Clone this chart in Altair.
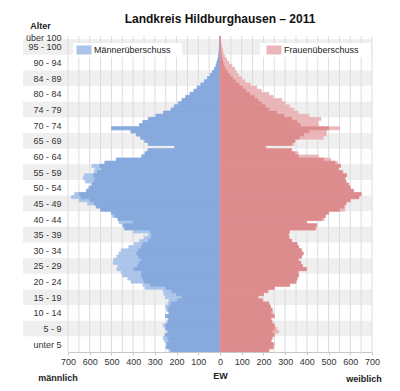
import json
import altair as alt
import pandas as pd

# ---------------- data ----------------
ages = list(range(101))  # 0 ... 100 (100 = "über 100")

male = [
    235, 250, 245, 255, 262,      # 0-4
    255, 240, 250, 262, 245,      # 5-9
    240, 250, 235, 245, 250,      # 10-14
    240, 235, 250, 258, 262,      # 15-19
    345, 355, 410, 425, 450,      # 20-24
    455, 475, 470, 492, 490,      # 25-29
    475, 465, 455, 420, 395,      # 30-34
    370, 350, 330, 400, 440,      # 35-39
    450, 465, 470, 495, 500,      # 40-44
    550, 570, 610, 650, 685,      # 45-49
    670, 615, 605, 590, 620,      # 50-54
    630, 625, 580, 575, 590,      # 55-59
    530, 477, 360, 345, 335,      # 60-64
    208, 330, 350, 365, 385,      # 65-69
    410, 500, 370, 355, 330,      # 70-74
    295, 260, 225, 210, 192,      # 75-79
    175, 158, 138, 120, 105,      # 80-84
    88, 72, 58, 45, 35,           # 85-89
    25, 18, 14, 10, 7,            # 90-94
    5, 4, 3, 2, 1,                # 95-99
    1,                            # 100+
]

female = [
    225, 245, 250, 235, 240,      # 0-4
    250, 270, 262, 250, 240,      # 5-9
    235, 250, 245, 240, 232,      # 10-14
    225, 195, 175, 200, 221,      # 15-19
    250, 321, 350, 355, 362,      # 20-24
    360, 398, 380, 372, 360,      # 25-29
    375, 383, 375, 362, 355,      # 30-34
    330, 318, 315, 320, 440,      # 35-39
    445, 398, 480, 485, 500,      # 40-44
    575, 575, 580, 600, 640,      # 45-49
    650, 615, 600, 595, 580,      # 50-54
    575, 583, 565, 545, 555,      # 55-59
    540, 510, 455, 360, 330,      # 60-64
    214, 340, 345, 475, 490,      # 65-69
    490, 552, 455, 452, 465,      # 70-74
    410, 360, 340, 320, 300,      # 75-79
    285, 245, 225, 190, 170,      # 80-84
    140, 115, 100, 85, 75,        # 85-89
    68, 55, 40, 30, 22,           # 90-94
    15, 12, 8, 6, 4,              # 95-99
    3,                            # 100+
]

group_labels = [
    "unter 5", "5 - 9", "10 - 14", "15 - 19", "20 - 24", "25 - 29",
    "30 - 34", "35 - 39", "40 - 44", "45 - 49", "50 - 54", "55 - 59",
    "60 - 64", "65 - 69", "70 - 74", "74 - 79", "80 - 84", "84 - 89",
    "90 - 94", "95 - 100", "über 100",
]
label_positions = [2.5, 7.5, 12.5, 17.5, 22.5, 27.5, 32.5, 37.5, 42.5, 47.5,
                   52.5, 57.5, 62.5, 67.5, 72.5, 77.5, 82.5, 87.5, 92.5, 97.5,
                   100.5]
tick_values = [-700, -600, -500, -400, -300, -200, -100, 0,
               100, 200, 300, 400, 500, 600, 700]
grid_values = [-700, -650, -600, -550, -500, -450, -400, -350, -300, -250,
               -200, -150, -100, -50, 50, 100, 150, 200, 250, 300, 350,
               400, 450, 500, 550, 600, 650, 700]
legend_names = ["Männerüberschuss", "Frauenüberschuss"]

# ---------------- styling ----------------
W, H = 304, 316
DARK_BLUE = "#86a9de"
LIGHT_BLUE = "#abc5ea"
DARK_RED = "#dd8c8d"
LIGHT_RED = "#ebb6b9"
BAND = "#efefef"
GRID = "#dcdcdc"
FONT = "Liberation Sans"

df = pd.DataFrame({"age": ages, "male": male, "female": female})
bands_df = pd.DataFrame({"g": list(range(len(group_labels)))})
grid_df = pd.DataFrame({"v": grid_values})

xscale = alt.Scale(domain=[-700, 700], nice=False, zero=False)
yscale = alt.Scale(domain=[0, 101], nice=False, zero=False)

xaxis = alt.Axis(values=tick_values, labelExpr="abs(datum.value)", title="EW",
                 grid=False, domainColor="#c8c8c8", tickColor="#c8c8c8",
                 tickSize=3, labelFontSize=9, labelColor="#333333",
                 labelOverlap=False, labelFlush=False,
                 titleFontSize=9, titleFontWeight="bold", titleColor="#222222",
                 titlePadding=5, labelPadding=2, zindex=1)
yaxis = alt.Axis(values=label_positions,
                 labelExpr=json.dumps(group_labels, ensure_ascii=False) + "[floor(datum.value/5)]",
                 ticks=False, domain=False, grid=False, labelFontSize=9,
                 labelColor="#333333", labelPadding=7, labelOverlap=False,
                 labelFlush=False, title="Alter",
                 titleAngle=0, titleX=-28, titleY=-8, titleAlign="center",
                 titleBaseline="alphabetic", titleFontSize=9,
                 titleFontWeight="bold", titleColor="#222222", zindex=1)

color_scale = alt.Scale(domain=legend_names, range=[LIGHT_BLUE, LIGHT_RED])
legend = alt.Legend(orient="none", legendX=11, legendY=9, direction="horizontal",
                    columns=2, columnPadding=95, title=None,
                    symbolType="M-1.5,-0.9L1.5,-0.9L1.5,0.9L-1.5,0.9Z",
                    symbolSize=100, symbolStrokeWidth=0, symbolOpacity=1,
                    labelFontSize=9, labelColor="#222222", labelOffset=5,
                    padding=0)

base = alt.Chart(df).transform_calculate(
    lo="datum.age",
    hi="datum.age + 1",
    mn="min(datum.male, datum.female)",
    negm="-datum.male",
    negmn="-min(datum.male, datum.female)",
    zero="0",
)

yenc = alt.Y("lo:Q", scale=yscale, axis=yaxis)

bands = alt.Chart(bands_df).transform_filter("datum.g % 2 == 1").transform_calculate(
    lo="datum.g * 5", hi="min(datum.g * 5 + 5, 101)"
).mark_rect(color=BAND).encode(
    x=alt.value(-45), x2=alt.value(W), y=yenc, y2="hi:Q"
)

grid = alt.Chart(grid_df).mark_rule(color=GRID, strokeWidth=1).encode(
    x=alt.X("v:Q", scale=xscale, axis=xaxis), y=alt.value(0), y2=alt.value(H)
)

box_left = alt.Chart(pd.DataFrame({"k": [0]})).mark_rect(color="white").encode(
    x=alt.value(5), x2=alt.value(114), y=alt.value(7), y2=alt.value(21)
)
box_right = alt.Chart(pd.DataFrame({"k": [0]})).mark_rect(color="white").encode(
    x=alt.value(192), x2=alt.value(303), y=alt.value(7), y2=alt.value(21)
)

SW = 0.6
male_all = base.transform_calculate(typ="'Männerüberschuss'").mark_bar(strokeWidth=SW).encode(
    x=alt.X("negm:Q", scale=xscale, axis=xaxis), x2="zero:Q", y=yenc, y2="hi:Q",
    color=alt.Color("typ:N", scale=color_scale, legend=legend),
    stroke=alt.Stroke("typ:N", scale=color_scale, legend=None),
)
male_common = base.mark_bar(color=DARK_BLUE, stroke=DARK_BLUE, strokeWidth=SW).encode(
    x=alt.X("negmn:Q", scale=xscale, axis=xaxis), x2="zero:Q", y=yenc, y2="hi:Q"
)
female_all = base.transform_calculate(typ="'Frauenüberschuss'").mark_bar(strokeWidth=SW).encode(
    x=alt.X("female:Q", scale=xscale, axis=xaxis), x2="zero:Q", y=yenc, y2="hi:Q",
    color=alt.Color("typ:N", scale=color_scale, legend=legend),
    stroke=alt.Stroke("typ:N", scale=color_scale, legend=None),
)
female_common = base.mark_bar(color=DARK_RED, stroke=DARK_RED, strokeWidth=SW).encode(
    x=alt.X("mn:Q", scale=xscale, axis=xaxis), x2="zero:Q", y=yenc, y2="hi:Q"
)

txt_m = alt.Chart(pd.DataFrame({"t": ["männlich"]})).mark_text(
    fontWeight="bold", fontSize=9, align="center", baseline="alphabetic", color="#222222"
).encode(text="t:N", x=alt.value(-10), y=alt.value(345))
txt_w = alt.Chart(pd.DataFrame({"t": ["weiblich"]})).mark_text(
    fontWeight="bold", fontSize=9, align="center", baseline="alphabetic", color="#222222"
).encode(text="t:N", x=alt.value(296), y=alt.value(346))

chart = alt.layer(
    bands, grid, box_left, box_right,
    male_all, male_common, female_all, female_common,
    txt_m, txt_w,
).properties(
    width=W, height=H,
    title=alt.TitleParams("Landkreis Hildburghausen – 2011", fontSize=12,
                          fontWeight="bold", anchor="middle", frame="group",
                          offset=0, dy=5, color="#111111"),
    autosize=alt.AutoSizeParams(type="none"),
    padding={"left": 60, "top": 28, "right": 20, "bottom": 32},
).configure(font=FONT).configure_view(stroke=None)

chart.save("out.html", embed_options={"renderer": "svg", "actions": False})
